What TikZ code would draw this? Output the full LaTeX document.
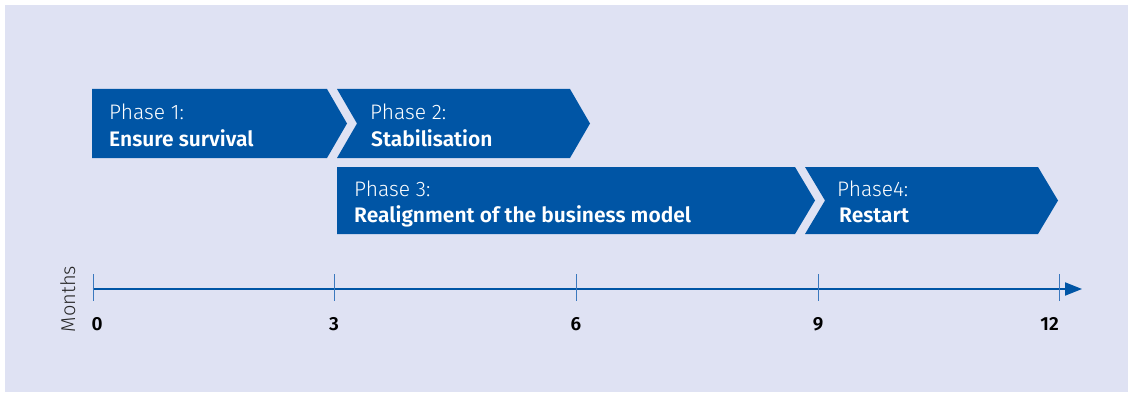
\documentclass[tikz,border=0pt]{standalone}
\usepackage{fontspec}
\setmainfont{Fira Sans Light}
\newfontfamily\boldface{Fira Sans SemiBold}
\usetikzlibrary{arrows.meta}

\definecolor{panel}{HTML}{DFE2F3}
\definecolor{phaseblue}{HTML}{0055A5}
\definecolor{tickblue}{HTML}{3A78BE}

\tikzset{
  phase/.style={fill=phaseblue},
  phasetext/.style={text=white,anchor=base west,inner sep=0pt,font=\fontsize{21}{26}\selectfont},
  phasename/.style={phasetext,font=\boldface\fontsize{21}{26}\selectfont},
  ticklabel/.style={font=\boldface\fontsize{19}{22}\selectfont,text=black,inner sep=0pt,anchor=base}
}

\begin{document}
\begin{tikzpicture}[x=1pt,y=-1pt]
    \useasboundingbox (0,0) rectangle (1129,393);
    \fill[panel] (5,5) rectangle (1128,392); % Background panel

    % Phase chevrons
    \fill[phase] (92,89) -- (327,89) -- (347,123.5) -- (327,158) -- (92,158) -- cycle;
    \fill[phase] (337,89) -- (570,89) -- (590,123.5) -- (570,158) -- (337,158) -- (357,123.5) -- cycle;
    \fill[phase] (337,167) -- (795,167) -- (815,200.5) -- (795,234) -- (337,234) -- cycle;
    \fill[phase] (805,167) -- (1038,167) -- (1058,200.5) -- (1038,234) -- (805,234) -- (825,200.5) -- cycle;

    % Phase labels
    \node[phasetext] (p1) at (109,120) {Phase 1:};
    \node[phasename] (p1name) at (109,146.7) {Ensure survival};
    \node[phasetext] (p2) at (370,120) {Phase 2:};
    \node[phasename] (p2name) at (371,146.7) {Stabilisation};
    \node[phasetext] (p3) at (354,196.7) {Phase 3:};
    \node[phasename] (p3name) at (354,222) {Realignment of the business model};
    \node[phasetext] (p4) at (837,196.7) {Phase4:};
    \node[phasename] (p4name) at (839,222.5) {Restart};

    % Time axis
    \coordinate (start) at (92.5,289);
    \coordinate (end) at (1082,289);
    \draw[phaseblue,line width=2pt,-{Triangle[length=17pt,width=13pt]}] (start) -- (end);
    \foreach \x in {93,334,576,818,1059}
      \draw[tickblue,line width=1pt] (\x,274) -- (\x,301);

    % Annotate the axis
    \node[ticklabel,anchor=base west] (m0) at (91.5,330) {0};
    \node[ticklabel] (m3) at (334,330) {3};
    \node[ticklabel] (m6) at (576,330) {6};
    \node[ticklabel] (m9) at (818,330) {9};
    \node[ticklabel,anchor=base east] (m12) at (1059,330) {12};
    \node[rotate=90,anchor=base,font=\fontsize{20}{22}\selectfont,text=black!85,inner sep=0pt] (months) at (75,299) {Months};
  \end{tikzpicture}
\end{document}
